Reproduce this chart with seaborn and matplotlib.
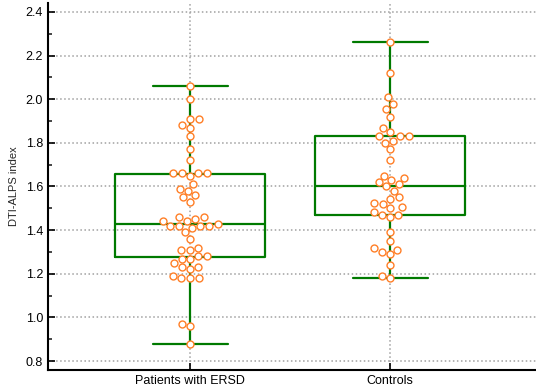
import pandas as pd
import seaborn as sns
import matplotlib.pyplot as plt
from matplotlib.ticker import MultipleLocator

# DTI-ALPS index values
groups = ['Patients with ERSD', 'Controls']
ersd = [2.06, 2.00, 1.91, 1.91, 1.88, 1.87, 1.83, 1.77, 1.72, 1.66, 1.66, 1.66, 1.66,
        1.65, 1.61, 1.59, 1.58, 1.56, 1.55, 1.53, 1.46, 1.46, 1.45, 1.44, 1.44, 1.43,
        1.42, 1.42, 1.42, 1.42, 1.41, 1.39, 1.36, 1.32, 1.31, 1.31, 1.28, 1.28, 1.27,
        1.27, 1.25, 1.23, 1.23, 1.22, 1.19, 1.18, 1.18, 1.18, 0.97, 0.96, 0.88]
controls = [2.26, 2.12, 2.01, 1.98, 1.955, 1.92, 1.87, 1.85, 1.83, 1.83, 1.83, 1.81,
            1.80, 1.77, 1.72, 1.65, 1.64, 1.63, 1.62, 1.61, 1.60, 1.58, 1.55, 1.545,
            1.525, 1.52, 1.505, 1.50, 1.485, 1.47, 1.47, 1.46, 1.39, 1.35, 1.32, 1.31,
            1.30, 1.29, 1.24, 1.19, 1.18]

df = pd.DataFrame({
    'group': [groups[0]] * len(ersd) + [groups[1]] * len(controls),
    'value': ersd + controls,
})

sns.set_style('white')
plt.rcParams['font.family'] = ['Liberation Sans', 'DejaVu Sans']

fig = plt.figure(figsize=(5.36, 3.87), dpi=100)
ax = fig.add_axes([48 / 536, 17 / 387, 488 / 536, 367 / 387])

green = '#007a00'
orange = '#ff7f27'

sns.boxplot(data=df, x='group', y='value', order=groups, whis=(0, 100),
            fill=False, color=green, linewidth=1.6, width=0.75,
            showfliers=False, ax=ax, zorder=2)
sns.swarmplot(data=df, x='group', y='value', order=groups, color='white',
              edgecolor=orange, linewidth=1, size=5, ax=ax, zorder=3)

ax.set_xlim(-0.71, 1.73)
ax.set_ylim(0.759, 2.441)
ax.yaxis.set_major_locator(MultipleLocator(0.2))
ax.yaxis.set_minor_locator(MultipleLocator(0.1))
ax.yaxis.set_major_formatter(plt.FormatStrFormatter('%.1f'))

ax.grid(True, which='major', linestyle=':', color='#a0a0a0', linewidth=1.1)
ax.set_axisbelow(True)

for side in ['top', 'right']:
    ax.spines[side].set_visible(False)
for side in ['left', 'bottom']:
    ax.spines[side].set_linewidth(1.5)
    ax.spines[side].set_color('black')

ax.tick_params(axis='both', which='major', direction='in', length=5, width=1.2,
               labelsize=9, colors='black', left=True, bottom=True)
ax.tick_params(axis='y', which='minor', direction='in', length=3, width=1.2, left=True)

ax.set_xlabel('')
ax.set_ylabel('DTI-ALPS index', fontsize=8, labelpad=5)

fig.savefig('out.png', dpi=100)
